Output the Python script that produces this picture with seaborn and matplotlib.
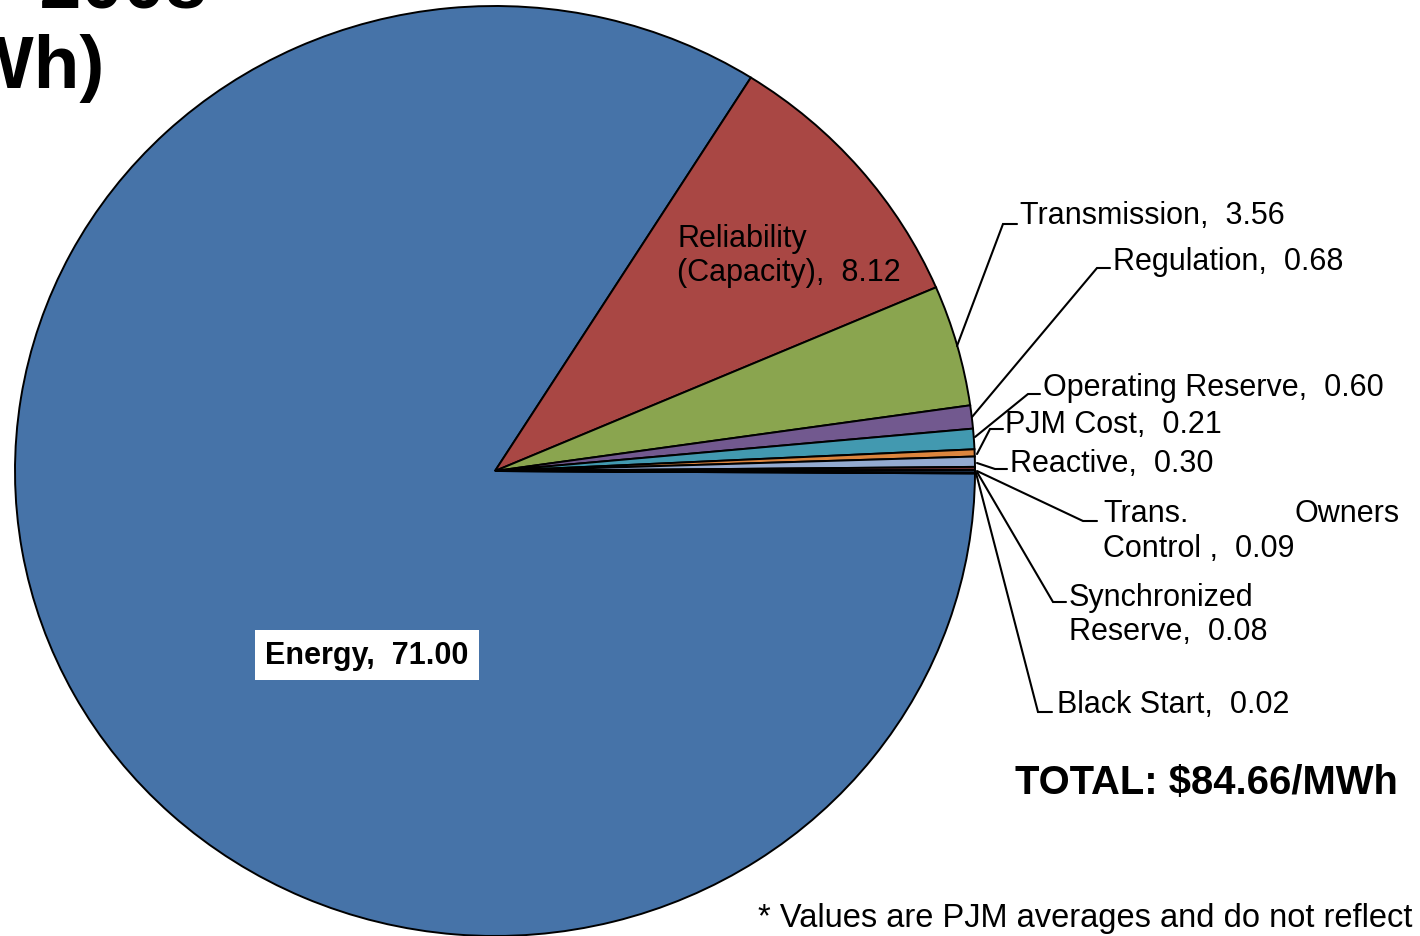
import matplotlib
matplotlib.use("Agg")
import matplotlib.pyplot as plt
import seaborn as sns

# ---- data ----
categories = ["Energy", "Reliability\n(Capacity)", "Transmission", "Regulation",
              "Operating Reserve", "PJM Cost", "Reactive", "Trans. Owners Control",
              "Synchronized Reserve", "Black Start"]
values = [71.00, 8.12, 3.56, 0.68, 0.60, 0.21, 0.30, 0.09, 0.08, 0.02]
value_labels = ["71.00", "8.12", "3.56", "0.68", "0.60", "0.21", "0.30", "0.09", "0.08", "0.02"]
colors = ["#4673A8", "#A94744", "#8AA54F", "#72598F", "#4299B0", "#DC853E",
          "#94AAD0", "#6B2E2C", "#2C4D75", "#4D3B62"]
total_label = "TOTAL: $84.66/MWh"

sns.set_theme(style="white")
plt.rcParams["font.family"] = ["Liberation Sans", "DejaVu Sans"]
plt.rcParams["text.color"] = "black"

W, H = 1420, 937
K = 465 / 480  # vertical squash of the pie (pixels per y data unit)
fig = plt.figure(figsize=(W / 100, H / 100), dpi=100)
ax = fig.add_axes([0, 0, 1, 1])

def Y(y):
    return (H - y) / K

cx, cy, R = 495, 472, 480
ax.pie(values, colors=colors, startangle=-0.3, counterclock=False,
       center=(cx, Y(cy)), radius=R,
       wedgeprops=dict(edgecolor="black", linewidth=1.4))
ax.set_aspect("auto")
ax.set_xlim(0, W)
ax.set_ylim(0, H / K)
ax.axis("off")

fs = 22
lc = dict(color="black", lw=1.5, solid_joinstyle="miter")

# inside labels
ax.text(677, Y(256), f"{categories[1]},  {value_labels[1]}", fontsize=fs,
        ha="left", va="center", linespacing=1.15)
ax.text(367, Y(656), f"{categories[0]},  {value_labels[0]}", fontsize=fs,
        fontweight="bold", ha="center", va="center",
        bbox=dict(boxstyle="square,pad=0.33", facecolor="white", edgecolor="none"))

# outside labels with leader lines: (idx, text pos, line points)
outside = [
    (2, (1020, 216), [(957, 347), (1003, 225), (1017, 225)]),
    (3, (1113, 262), [(972, 418), (1097, 269), (1110, 269)]),
    (4, (1043, 388), [(975, 438), (1028, 395), (1040, 395)]),
    (5, (1005, 425), [(977, 455), (990, 430), (1003, 430)]),
    (6, (1010, 464), [(977, 464), (995, 470), (1007, 470)]),
    (8, (1069, 615), [(977, 473), (1053, 603), (1066, 603)]),
    (9, (1057, 705), [(976, 474), (1038, 713), (1052, 713)]),
]
for idx, (tx, ty), pts in outside:
    name = categories[idx].replace(" Reserve", "\nReserve") if idx == 8 else categories[idx]
    ax.text(tx, Y(ty), f"{name},  {value_labels[idx]}", fontsize=fs,
            ha="left", va="center", linespacing=1.15)
    ax.plot([p[0] for p in pts], [Y(p[1]) for p in pts], **lc)

# Trans. Owners Control (justified two-line label)
ax.text(1103, Y(514), "Trans.", fontsize=fs, ha="left", va="center")
ax.text(1400, Y(514), "Owners", fontsize=fs, ha="right", va="center")
ax.text(1103, Y(549), f"Control ,  {value_labels[7]}", fontsize=fs, ha="left", va="center")
ax.plot([977, 1083, 1097], [Y(472), Y(522), Y(522)], **lc)

# total
ax.text(1015, Y(783), total_label, fontsize=28.8, fontweight="bold",
        ha="left", va="center")

# footnote (runs off the right edge, as in the original)
ax.text(758, Y(919), "* Values are PJM averages and do not reflect",
        fontsize=23.5, ha="left", va="center")

# title (partly cut off)
ax.text(207, Y(8), "Total Cost - 2008", fontsize=54, fontweight="bold",
        ha="right", va="baseline")
ax.text(105, Y(88), "($/MWh)", fontsize=54, fontweight="bold",
        ha="right", va="baseline")

fig.savefig("out.png", dpi=100, facecolor="white")
